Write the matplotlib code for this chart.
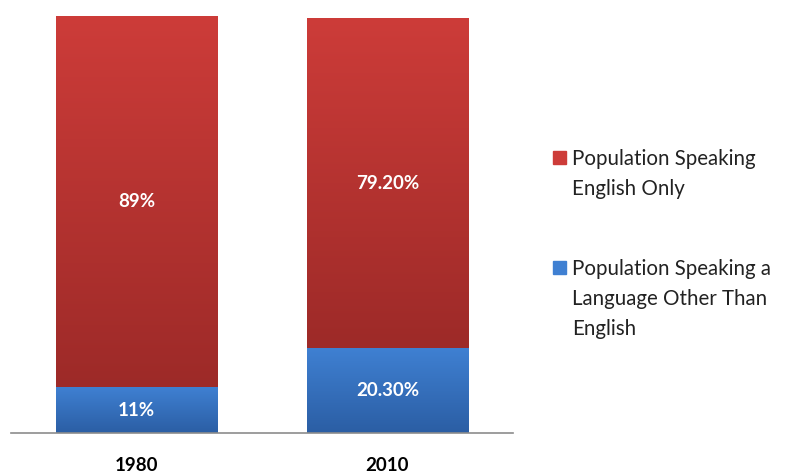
import numpy as np
import matplotlib
matplotlib.use("Agg")
import matplotlib.pyplot as plt
from matplotlib.colors import LinearSegmentedColormap
from matplotlib.patches import Rectangle

plt.rcParams['font.family'] = ['Lato', 'DejaVu Sans']

# ---- data ----
years = ["1980", "2010"]
english_only = [89.0, 79.2]
other_lang = [11.0, 20.3]
english_labels = ["89%", "79.20%"]
other_labels = ["11%", "20.30%"]
legend_names = [["Population Speaking", "English Only"],
                ["Population Speaking a", "Language Other Than", "English"]]

# gradient ends (top, bottom)
red_top, red_bot = "#cd3c39", "#9d2a28"
blue_top, blue_bot = "#3f80d2", "#2b5ea4"

fig = plt.figure(figsize=(8.04, 4.74), dpi=100)
ax = fig.add_axes([11/804, 41/474, 502/804, 417/474])

x = np.arange(len(years))
width = 0.645
b_blue = ax.bar(x, other_lang, width, color="none", edgecolor="none")
b_red = ax.bar(x, english_only, width, bottom=other_lang, color="none", edgecolor="none")


def fill_gradient(bars, c_top, c_bot):
    cmap = LinearSegmentedColormap.from_list("g", [c_bot, c_top])
    grad = np.linspace(0, 1, 256).reshape(-1, 1)
    for b in bars:
        x0, y0 = b.get_x(), b.get_y()
        w, h = b.get_width(), b.get_height()
        im = ax.imshow(grad, cmap=cmap, origin="lower", aspect="auto",
                       extent=[x0, x0 + w, y0, y0 + h], zorder=2)
        clip = Rectangle((x0, y0), w, h, transform=ax.transData)
        im.set_clip_path(clip)


fill_gradient(b_red, red_top, red_bot)
fill_gradient(b_blue, blue_top, blue_bot)

# value labels in the middle of each segment
for i in range(len(years)):
    ax.text(x[i], other_lang[i] / 2, other_labels[i], ha="center", va="center",
            color="white", fontsize=13.5, fontweight="bold", zorder=3)
    ax.text(x[i], other_lang[i] + english_only[i] / 2, english_labels[i],
            ha="center", va="center", color="white", fontsize=13.5,
            fontweight="bold", zorder=3)

ax.set_xlim(-0.5, 1.5)
ax.set_ylim(0, 100)
ax.set_xticks(x)
ax.set_xticklabels(years, fontsize=13.5, fontweight="bold", color="black")
ax.tick_params(axis="x", length=0, pad=17)
ax.set_yticks([])
for s in ["top", "right", "left"]:
    ax.spines[s].set_visible(False)
ax.spines["bottom"].set_color("#8c8c8c")
ax.spines["bottom"].set_linewidth(1.2)

# legend drawn by hand on the right, one text per line
first_baseline = [165, 275]
line_step = 30
for lines, c, yb in zip(legend_names, [red_top, blue_top], first_baseline):
    fig.patches.append(Rectangle((553/804, 1 - (yb - 1)/474), 13/804, 13/474,
                                 transform=fig.transFigure, color=c))
    for k, line in enumerate(lines):
        fig.text(572/804, 1 - (yb + k * line_step)/474, line, ha="left",
                 va="baseline", fontsize=14.8, color="#222222")

fig.savefig("out.png", dpi=100)
